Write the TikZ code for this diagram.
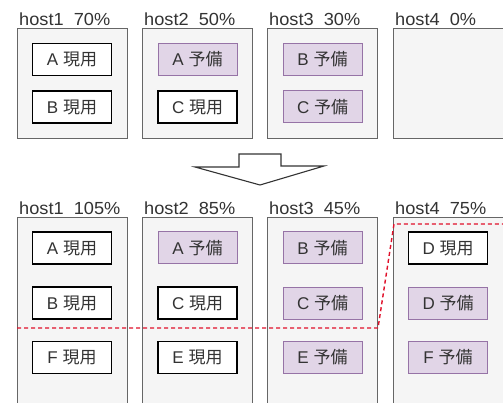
\documentclass[tikz,border=0pt]{standalone}
\usepackage{fontspec}
\setmainfont{Liberation Sans}
\newfontfamily\jp{Noto Sans CJK JP}
\definecolor{hostfill}{HTML}{F5F5F5}
\definecolor{hostline}{HTML}{666666}
\definecolor{txt}{HTML}{333333}
\definecolor{sbfill}{HTML}{E1D5E7}
\definecolor{sbline}{HTML}{9673A6}
\definecolor{redline}{HTML}{E0102A}
\begin{document}
\begin{tikzpicture}[x=1pt,y=-1pt,
  host/.style={draw=hostline, fill=hostfill, line width=1.1pt, minimum width=110pt, anchor=north west, inner sep=0pt},
  lab/.style={anchor=base west, text=txt, font=\fontsize{17.5}{20}\selectfont, inner sep=0pt, xscale=1.04},
  act/.style={draw=black, fill=white, line width=1.3pt, minimum width=79pt, minimum height=32pt, inner sep=0pt, text=txt, font=\fontsize{17}{20}\selectfont},
  sby/.style={act, draw=sbline, fill=sbfill, line width=1pt},
  bigarrow/.style={draw=txt, fill=white, line width=1.1pt, line join=miter},
  cut/.style={draw=redline, dashed, dash pattern=on 4pt off 3pt, line width=1.4pt}]
\useasboundingbox (0,0) rectangle (503,403);
\clip (0,0) rectangle (503,403);
\fill[white] (0,0) rectangle (503,403);
% top row hosts
\node[host, minimum height=110pt] (t1) at (17,28) {};
\node[host, minimum height=110pt] (t2) at (142,28) {};
\node[host, minimum height=110pt] (t3) at (267,28) {};
\node[host, minimum height=110pt] (t4) at (393,28) {};
\node[lab] (lt1) at (19,25.5) {host1\ \ 70\%};
\node[lab] (lt2) at (144,25.5) {host2\ \ 50\%};
\node[lab] (lt3) at (269,25.5) {host3\ \ 30\%};
\node[lab] (lt4) at (395,25.5) {host4\ \ 0\%};
\node[act] (ta1) at (72,59.5) {A {\jp 現用}};
\node[act] (tb1) at (72,107) {B {\jp 現用}};
\node[sby] (ta2) at (197.5,59.5) {A {\jp 予備}};
\node[act] (tc2) at (197.5,107) {C {\jp 現用}};
\node[sby] (tb3) at (322.5,59.5) {B {\jp 予備}};
\node[sby] (tc3) at (322.5,107) {C {\jp 予備}};
% arrow
\draw[bigarrow] (239,154) -- (281,154) -- (281,166) -- (324,166) -- (260,185) -- (195,167) -- (239,167) -- cycle;
% bottom row hosts
\node[host, minimum height=200pt] (b1) at (17,217) {};
\node[host, minimum height=200pt] (b2) at (142,217) {};
\node[host, minimum height=200pt] (b3) at (267,217) {};
\node[host, minimum height=200pt] (b4) at (393,217) {};
\node[lab] (lb1) at (19,214.5) {host1\ \ 105\%};
\node[lab] (lb2) at (144,214.5) {host2\ \ 85\%};
\node[lab] (lb3) at (269,214.5) {host3\ \ 45\%};
\node[lab] (lb4) at (395,214.5) {host4\ \ 75\%};
\node[act] (ba1) at (72,248) {A {\jp 現用}};
\node[act] (bb1) at (72,303) {B {\jp 現用}};
\node[act] (bf1) at (72,357.5) {F {\jp 現用}};
\node[sby] (ba2) at (197.5,248) {A {\jp 予備}};
\node[act] (bc2) at (197.5,303) {C {\jp 現用}};
\node[act] (be2) at (197.5,357.5) {E {\jp 現用}};
\node[sby] (bb3) at (322.5,248) {B {\jp 予備}};
\node[sby] (bc3) at (322.5,303) {C {\jp 予備}};
\node[sby] (be3) at (322.5,357.5) {E {\jp 予備}};
\node[act] (bd4) at (448,248) {D {\jp 現用}};
\node[sby] (bdd4) at (448,303) {D {\jp 予備}};
\node[sby] (bf4) at (448,357.5) {F {\jp 予備}};
% capacity line
\coordinate (c0) at (17,328);
\coordinate (c1) at (378,328);
\coordinate (c2) at (394,224);
\coordinate (c3) at (505,224);
\draw[cut] (c0) -- (c1) -- (c2) -- (c3);
\end{tikzpicture}
\end{document}
